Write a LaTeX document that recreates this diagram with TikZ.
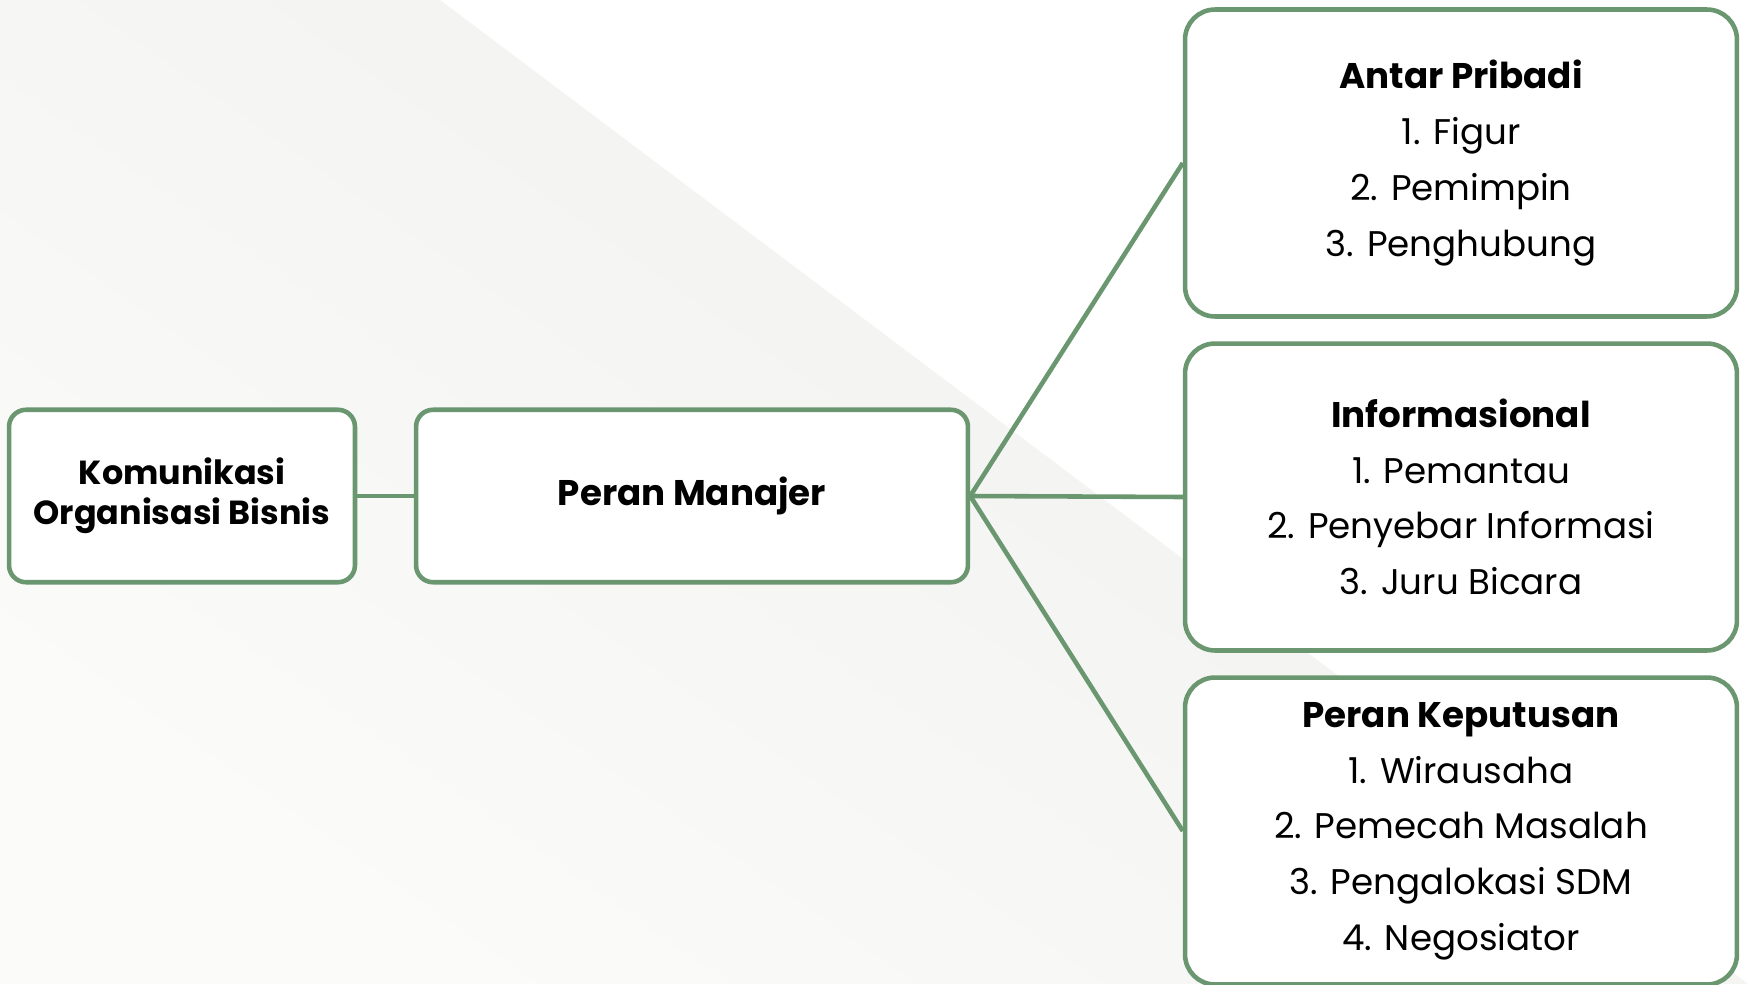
\documentclass[tikz,border=0pt]{standalone}
\usepackage{fontspec}
\setmainfont{Poppins}
\definecolor{boxgreen}{RGB}{107,151,112}
\definecolor{bgdark}{RGB}{239,239,237}
\definecolor{bglight}{RGB}{251,251,250}
\begin{document}
\begin{tikzpicture}[x=0.02cm,y=-0.02cm,
  box/.style={draw=boxgreen, line width=2.6pt, fill=white, align=center, inner sep=0pt},
  smallbox/.style={box, rounded corners=0.34cm, minimum height=3.45cm, font=\fontsize{19}{23}\selectfont\bfseries},
  listbox/.style={box, rounded corners=0.6cm, minimum width=11.04cm, minimum height=6.14cm, font=\fontsize{20.3}{31.7}\selectfont},
  link/.style={draw=boxgreen, line width=2.6pt}]
\useasboundingbox (0,0) rectangle (1748,984);
\fill[white] (0,0) rectangle (1748,984);
\shade[top color=bgdark, bottom color=bglight, shading angle=-35] (0,0) -- (440,0) -- (1748,984) -- (0,984) -- cycle;
\node[smallbox, minimum width=6.92cm] (kob) at (182,496) {Komunikasi\\Organisasi Bisnis};
\node[smallbox, minimum width=11.04cm, font=\fontsize{20.3}{23}\selectfont\bfseries] (pm) at (692,496) {Peran Manajer};
\node[listbox] (ap) at (1461,163) {\textbf{Antar Pribadi}\\1. Figur\\2. Pemimpin\\3. Penghubung};
\node[listbox] (inf) at (1461,497) {\textbf{Informasional}\\1. Pemantau\\2. Penyebar Informasi\\3. Juru Bicara};
\node[listbox] (pk) at (1461,831) {\textbf{Peran Keputusan}\\1. Wirausaha\\2. Pemecah Masalah\\3. Pengalokasi SDM\\4. Negosiator};
\draw[link] (kob.east) -- (pm.west);
\draw[link] (pm.east) -- (ap.west);
\draw[link] (pm.east) -- (inf.west);
\draw[link] (pm.east) -- (pk.west);
\end{tikzpicture}
\end{document}
